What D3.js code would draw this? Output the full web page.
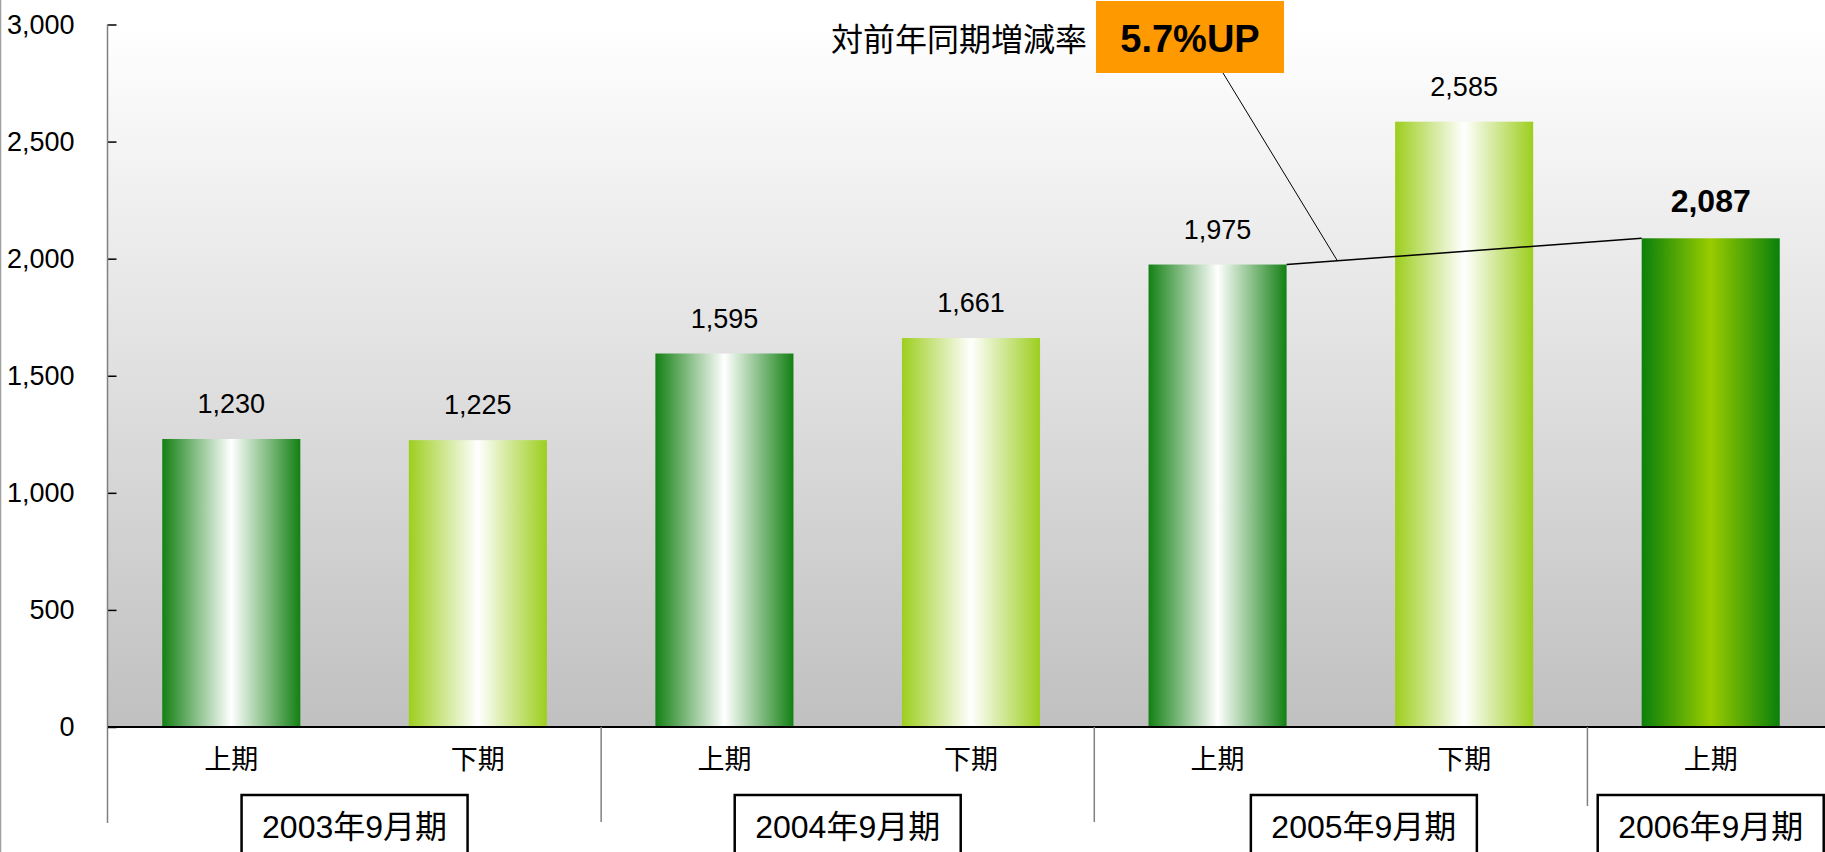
<!DOCTYPE html>
<html>
<head>
<meta charset="utf-8">
<script src="https://cdn.jsdelivr.net/npm/d3@7/dist/d3.min.js"></script>
<style>
  html, body { margin: 0; padding: 0; background: #fff; }
  svg { display: block; font-family: "Liberation Sans", Arial, "Noto Sans CJK JP", sans-serif; }
</style>
</head>
<body>
<svg id="chart" width="1825" height="852"></svg>
<script>
// ---------- DATA ----------
const periods = ["上期", "下期", "上期", "下期", "上期", "下期", "上期"];
const sales = [1230, 1225, 1595, 1661, 1975, 2585, 2087];
const barKind = ["first", "second", "first", "second", "first", "second", "latest"];
const fiscalYears = ["2003年9月期", "2004年9月期", "2005年9月期", "2006年9月期"];
const yearSpan = [2, 2, 2, 1];            // how many bars under each fiscal year
const yTicks = [0, 500, 1000, 1500, 2000, 2500, 3000];
const growthLabel = "対前年同期増減率";
const growthValue = "5.7%UP";

// ---------- LAYOUT ----------
const W = 1825, H = 852;
const plotLeft = 108, plotRight = 1834, plotTop = 24.5, plotBottom = 727;
const svg = d3.select("#chart");

const x = d3.scaleBand().domain(d3.range(sales.length))
  .range([plotLeft, plotRight]).paddingInner(0.44).paddingOuter(0.22);
const y = d3.scaleLinear().domain([0, 3000]).range([plotBottom, plotTop]);

// ---------- GRADIENTS ----------
const defs = svg.append("defs");
const bg = defs.append("linearGradient").attr("id", "bg")
  .attr("x1", 0).attr("y1", 0).attr("x2", 0).attr("y2", 1);
bg.append("stop").attr("offset", 0).attr("stop-color", "#ffffff");
bg.append("stop").attr("offset", 1).attr("stop-color", "#c0c0c0");

function hGrad(id, edge, mid){
  const g = defs.append("linearGradient").attr("id", id)
    .attr("x1", 0).attr("y1", 0).attr("x2", 1).attr("y2", 0);
  g.append("stop").attr("offset", 0).attr("stop-color", edge);
  g.append("stop").attr("offset", 0.5).attr("stop-color", mid);
  g.append("stop").attr("offset", 1).attr("stop-color", edge);
}
hGrad("first", "#138013", "#ffffff");
hGrad("second", "#9dce1e", "#ffffff");
hGrad("latest", "#0a800a", "#99cc00");

// ---------- BACKGROUND ----------
svg.append("rect")
  .attr("x", plotLeft).attr("y", plotTop)
  .attr("width", W - plotLeft).attr("height", plotBottom - plotTop)
  .attr("fill", "url(#bg)");

svg.append("line")
  .attr("x1", 0.5).attr("x2", 0.5).attr("y1", 0).attr("y2", H)
  .attr("stroke", "#a0a0a0").attr("stroke-width", 1.5);

// ---------- BARS ----------
svg.selectAll("rect.bar")
  .data(sales)
  .join("rect")
  .attr("class", "bar")
  .attr("x", (d, i) => x(i))
  .attr("y", d => y(d))
  .attr("width", x.bandwidth())
  .attr("height", d => y(0) - y(d))
  .attr("fill", (d, i) => `url(#${barKind[i]})`);

// value labels
svg.selectAll("text.val")
  .data(sales)
  .join("text")
  .attr("class", "val")
  .attr("x", (d, i) => x(i) + x.bandwidth() / 2)
  .attr("y", (d, i) => y(d) - 26)
  .attr("text-anchor", "middle")
  .attr("font-size", (d, i) => barKind[i] === "latest" ? 32 : 27)
  .attr("font-weight", (d, i) => barKind[i] === "latest" ? "bold" : "normal")
  .attr("fill", "#000")
  .text(d => d3.format(",")(d));

// ---------- Y AXIS ----------
const yAxis = svg.append("g")
  .attr("transform", `translate(${plotLeft - 0.5},0)`)
  .call(d3.axisLeft(y).tickValues(yTicks).tickSize(-9).tickPadding(33).tickFormat(d3.format(",")));
yAxis.select(".domain").remove();
yAxis.selectAll(".tick line").attr("stroke", "#000").attr("stroke-width", 1.5);
yAxis.selectAll(".tick text").attr("font-size", 27).attr("fill", "#000")
  .attr("font-family", "\"Liberation Sans\", Arial, sans-serif");

svg.append("line")
  .attr("x1", plotLeft - 0.5).attr("x2", plotLeft - 0.5)
  .attr("y1", plotTop).attr("y2", 823)
  .attr("stroke", "#808080").attr("stroke-width", 1.5);

// baseline
svg.append("line")
  .attr("x1", plotLeft).attr("x2", W).attr("y1", plotBottom).attr("y2", plotBottom)
  .attr("stroke", "#000").attr("stroke-width", 2);

// ---------- CATEGORY LABELS ----------
svg.selectAll("text.period")
  .data(periods)
  .join("text")
  .attr("class", "period")
  .attr("x", (d, i) => x(i) + x.bandwidth() / 2)
  .attr("y", 769)
  .attr("text-anchor", "middle")
  .attr("font-size", 27)
  .attr("font-family", "\"Noto Sans CJK JP\", sans-serif")
  .text(d => d);

// fiscal year groups
const step = x.step();
let start = 0;
const groups = fiscalYears.map((label, k) => {
  const g = { label, from: start, to: start + yearSpan[k], last: k === fiscalYears.length - 1 };
  start += yearSpan[k];
  return g;
});
const boxShift = [0, 0, 23, 0];

// dividers between fiscal years
svg.selectAll("line.div")
  .data(groups.slice(1))
  .join("line")
  .attr("class", "div")
  .attr("x1", d => plotLeft + d.from * step).attr("x2", d => plotLeft + d.from * step)
  .attr("y1", plotBottom).attr("y2", d => d.last ? 806 : 822)
  .attr("stroke", "#808080").attr("stroke-width", 1.5);

const yearG = svg.selectAll("g.year")
  .data(groups)
  .join("g")
  .attr("class", "year")
  .attr("transform", (d, k) => {
    const cx = plotLeft + (d.from + d.to) / 2 * step + boxShift[k];
    return `translate(${cx},0)`;
  });
yearG.append("rect")
  .attr("x", -113).attr("y", 795).attr("width", 226).attr("height", 70)
  .attr("fill", "#fff").attr("stroke", "#000").attr("stroke-width", 2.5);
yearG.append("text")
  .attr("x", 0).attr("y", 838)
  .attr("text-anchor", "middle")
  .attr("font-size", 32)
  .text(d => d.label);

// ---------- GROWTH ANNOTATION ----------
const iA = 4, iB = 6;
const pA = [x(iA) + x.bandwidth(), y(sales[iA])];
const pB = [x(iB), y(sales[iB])];
svg.append("line")
  .attr("x1", pA[0]).attr("y1", pA[1]).attr("x2", pB[0]).attr("y2", pB[1])
  .attr("stroke", "#000").attr("stroke-width", 1.5);

const t = 0.143;
const leaderEnd = [pA[0] + (pB[0] - pA[0]) * t, pA[1] + (pB[1] - pA[1]) * t];
const boxX = 1096, boxW = 188, boxY = 1, boxH = 72;
svg.append("line")
  .attr("x1", 1223).attr("y1", boxY + boxH)
  .attr("x2", leaderEnd[0]).attr("y2", leaderEnd[1])
  .attr("stroke", "#000").attr("stroke-width", 1);

svg.append("rect")
  .attr("x", boxX).attr("y", boxY).attr("width", boxW).attr("height", boxH)
  .attr("fill", "#ff9900");
svg.append("text")
  .attr("x", boxX + boxW / 2).attr("y", 52)
  .attr("text-anchor", "middle")
  .attr("font-size", 38).attr("font-weight", "bold")
  .text(growthValue);
svg.append("text")
  .attr("x", 1087).attr("y", 51)
  .attr("text-anchor", "end")
  .attr("font-size", 32)
  .attr("font-family", "\"Noto Sans CJK JP\", sans-serif")
  .text(growthLabel);
</script>
</body>
</html>
